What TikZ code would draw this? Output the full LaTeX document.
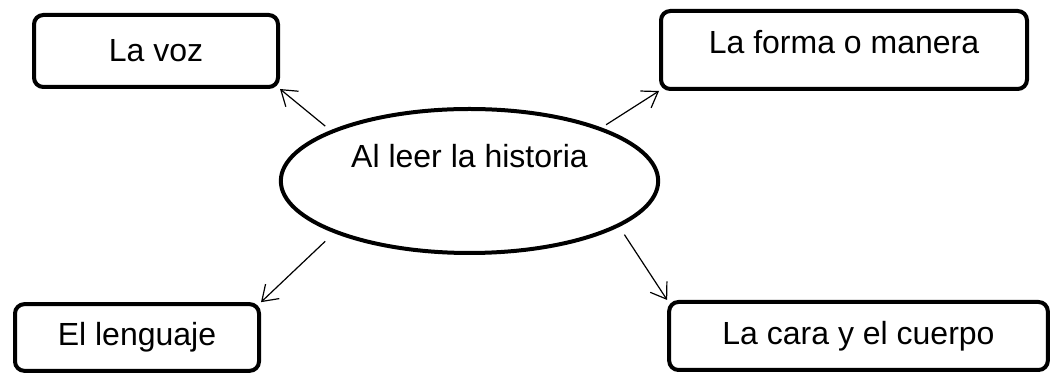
\documentclass[tikz,border=0pt]{standalone}
\usepackage{fontspec}
\setmainfont{Liberation Sans}
\usepackage{tikz}
\usetikzlibrary{shapes.geometric}
\usetikzlibrary{arrows.meta}

\begin{document}
\begin{tikzpicture}[
            > = {Straight Barb[length=11pt,width=15pt]}, % open arrow head
            x = 0.75pt, y = 0.75pt, % one unit is one pixel
            font = \fontsize{24}{28}\selectfont,
            line width = 0.9pt
        ]

        \tikzstyle{box}=[
            draw,
            line width = 3pt,
            rounded corners = 7pt,
            inner sep = 0pt
        ]

        \useasboundingbox (0,0) rectangle (1051,374);

	% centre
        \node[draw, ellipse, line width = 3pt, minimum width = 283pt, minimum height = 108pt,
              text height = 18pt, text depth = 37.5pt] (H) at (469.5,193) {Al leer la historia};

         % top row
        \node[box, minimum width = 183pt, minimum height = 54pt] (VOZ) at (156,323) {La voz};
        \node[box, minimum width = 274.5pt, minimum height = 58.5pt,
              text height = 18pt, text depth = 13pt] (FORMA) at (844,324) {La forma o manera};

         % bottom row
        \node[box, minimum width = 183pt, minimum height = 50pt] (LENG) at (137,36.5) {El lenguaje};
        \node[box, minimum width = 284pt, minimum height = 51pt] (CARA) at (858.5,38) {La cara y el cuerpo};

         \path[->, shorten <= 5pt] (H.160) edge node {} (VOZ.south east);
         \path[->, shorten <= 4pt] (H.22) edge node {} (FORMA.south west);
         \path[->, shorten <= 9pt] (H.201) edge node {} (LENG.north east);
         \path[->, shorten <= 7pt] (H.-17) edge node {} (CARA.north west);

  \end{tikzpicture}
\end{document}
